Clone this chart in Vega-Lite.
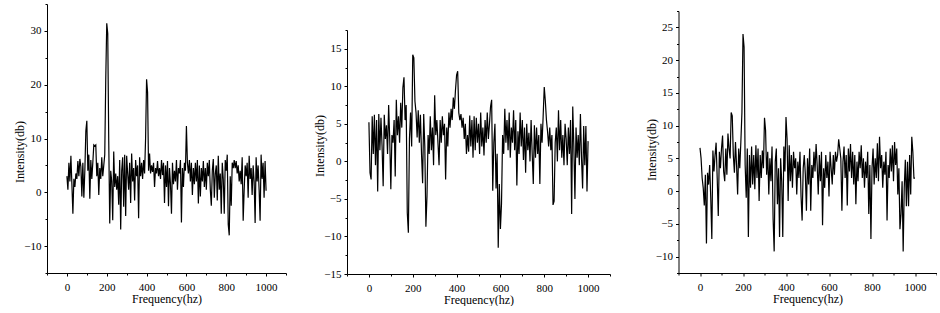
{
  "$schema": "https://vega.github.io/schema/vega-lite/v6.json",
  "background": "white",
  "padding": {"left": 13, "top": 3, "right": 0, "bottom": 0},
  "autosize": {"type": "pad"},
  "config": {
    "view": {"stroke": null},
    "axis": {
      "grid": false,
      "domainColor": "#000",
      "tickColor": "#000",
      "labelColor": "#000",
      "titleColor": "#000",
      "labelFont": "Liberation Serif",
      "titleFont": "Liberation Serif",
      "labelFontSize": 11,
      "titleFontSize": 12,
      "titleFontWeight": "normal",
      "labelFlush": false,
      "labelOverlap": false
    },
    "axisX": {"labelPadding": 5.5, "titlePadding": 1, "format": "d"},
    "axisY": {"labelPadding": 3, "titlePadding": -3}
  },
  "datasets": {
    "p1": [
      {"f":0,"v":3},{"f":5,"v":0.5},{"f":10,"v":5.5},{"f":15,"v":2},{"f":20,"v":6.8},{"f":25,"v":1.5},{"f":30,"v":-4},{"f":35,"v":2.5},{"f":40,"v":1},{"f":45,"v":3.5},
      {"f":50,"v":2.5},{"f":55,"v":5.8},{"f":60,"v":3},{"f":65,"v":6.2},{"f":70,"v":4.8},{"f":75,"v":-0.8},{"f":80,"v":5.5},{"f":85,"v":-1},{"f":90,"v":4},{"f":95,"v":11.4},
      {"f":100,"v":13.3},{"f":105,"v":4},{"f":110,"v":7},{"f":115,"v":-1.2},{"f":120,"v":6},{"f":125,"v":2.5},{"f":130,"v":5.5},{"f":135,"v":8.8},{"f":140,"v":8.6},{"f":145,"v":8.8},
      {"f":150,"v":3},{"f":155,"v":5.5},{"f":160,"v":-0.5},{"f":165,"v":4.5},{"f":170,"v":2.5},{"f":175,"v":6.5},{"f":180,"v":3},{"f":185,"v":5},{"f":190,"v":7},{"f":195,"v":21},
      {"f":200,"v":31.4},{"f":205,"v":29.5},{"f":210,"v":9.6},{"f":215,"v":-5.8},{"f":220,"v":4},{"f":225,"v":2},{"f":230,"v":-5.2},{"f":235,"v":7.6},{"f":240,"v":1},{"f":245,"v":3.5},
      {"f":250,"v":0.5},{"f":255,"v":3},{"f":260,"v":-2.3},{"f":265,"v":6},{"f":270,"v":-6.9},{"f":275,"v":4},{"f":280,"v":6.5},{"f":285,"v":-2.7},{"f":290,"v":7},{"f":295,"v":-4.4},
      {"f":300,"v":6.8},{"f":305,"v":3.5},{"f":310,"v":0.5},{"f":315,"v":5.5},{"f":320,"v":-2},{"f":325,"v":7.2},{"f":330,"v":2},{"f":335,"v":4.5},{"f":340,"v":-1.5},{"f":345,"v":6},
      {"f":350,"v":3},{"f":355,"v":5},{"f":360,"v":-4.8},{"f":365,"v":6.5},{"f":370,"v":3},{"f":375,"v":5.5},{"f":380,"v":2.5},{"f":385,"v":6},{"f":390,"v":3.5},{"f":395,"v":10},
      {"f":400,"v":21},{"f":405,"v":18.6},{"f":410,"v":4},{"f":415,"v":7.2},{"f":420,"v":3.5},{"f":425,"v":5},{"f":430,"v":3.8},{"f":435,"v":5.5},{"f":440,"v":1},{"f":445,"v":4.5},
      {"f":450,"v":3.5},{"f":455,"v":5.8},{"f":460,"v":3},{"f":465,"v":4.5},{"f":470,"v":2.5},{"f":475,"v":6},{"f":480,"v":3.2},{"f":485,"v":5.5},{"f":490,"v":-2},{"f":495,"v":5},
      {"f":500,"v":1},{"f":505,"v":5.8},{"f":510,"v":-2.6},{"f":515,"v":4.5},{"f":520,"v":1.5},{"f":525,"v":-4},{"f":530,"v":5.5},{"f":535,"v":1.5},{"f":540,"v":4},{"f":545,"v":2},
      {"f":550,"v":6},{"f":555,"v":0.5},{"f":560,"v":4.5},{"f":565,"v":3.5},{"f":570,"v":6},{"f":575,"v":-5.6},{"f":580,"v":4.5},{"f":585,"v":1},{"f":590,"v":5.5},{"f":595,"v":4},
      {"f":600,"v":12.3},{"f":605,"v":5.5},{"f":610,"v":3.5},{"f":615,"v":6},{"f":620,"v":2},{"f":625,"v":5.5},{"f":630,"v":-0.5},{"f":635,"v":4.5},{"f":640,"v":1.5},{"f":645,"v":5.5},
      {"f":650,"v":2},{"f":655,"v":6},{"f":660,"v":-2.1},{"f":665,"v":5},{"f":670,"v":-0.8},{"f":675,"v":4.5},{"f":680,"v":2},{"f":685,"v":5.8},{"f":690,"v":1},{"f":695,"v":4.5},
      {"f":700,"v":0.5},{"f":705,"v":5.5},{"f":710,"v":3},{"f":715,"v":6},{"f":720,"v":0.5},{"f":725,"v":-2.5},{"f":730,"v":4},{"f":735,"v":6.2},{"f":740,"v":-1},{"f":745,"v":3.5},
      {"f":750,"v":5},{"f":755,"v":-1.5},{"f":760,"v":6.8},{"f":765,"v":0.5},{"f":770,"v":3.5},{"f":775,"v":-4},{"f":780,"v":5.5},{"f":785,"v":2.5},{"f":790,"v":-4},{"f":795,"v":6},
      {"f":800,"v":4},{"f":805,"v":7},{"f":810,"v":-6},{"f":815,"v":-8},{"f":820,"v":3},{"f":825,"v":-2.5},{"f":830,"v":5.5},{"f":835,"v":4.5},{"f":840,"v":6},{"f":845,"v":4.5},
      {"f":850,"v":5.8},{"f":855,"v":3.5},{"f":860,"v":5},{"f":865,"v":2},{"f":870,"v":4},{"f":875,"v":1.5},{"f":880,"v":6.5},{"f":885,"v":-5.3},{"f":890,"v":0.5},{"f":895,"v":5},
      {"f":900,"v":3},{"f":905,"v":5.5},{"f":910,"v":-1},{"f":915,"v":6.8},{"f":920,"v":2.5},{"f":925,"v":4.5},{"f":930,"v":-0.5},{"f":935,"v":5},{"f":940,"v":2},{"f":945,"v":-5.7},
      {"f":950,"v":6.5},{"f":955,"v":2},{"f":960,"v":5},{"f":965,"v":0.5},{"f":970,"v":-5.3},{"f":975,"v":7},{"f":980,"v":2.5},{"f":985,"v":5.5},{"f":990,"v":-1},{"f":995,"v":5.8},
      {"f":1000,"v":0.3}
    ],
    "p2": [
      {"f":0,"v":5.2},{"f":5,"v":-1.5},{"f":10,"v":-2.4},{"f":15,"v":6},{"f":20,"v":1},{"f":25,"v":6.2},{"f":30,"v":-0.5},{"f":35,"v":5.5},{"f":40,"v":-4},{"f":45,"v":6.3},
      {"f":50,"v":1.5},{"f":55,"v":5.8},{"f":60,"v":2},{"f":65,"v":-3.3},{"f":70,"v":6.2},{"f":75,"v":3},{"f":80,"v":4.8},{"f":85,"v":1},{"f":90,"v":7.5},{"f":95,"v":3},
      {"f":100,"v":-3.7},{"f":105,"v":3.5},{"f":110,"v":2.5},{"f":115,"v":5.5},{"f":120,"v":-2},{"f":125,"v":8.2},{"f":130,"v":3.5},{"f":135,"v":6},{"f":140,"v":2.5},{"f":145,"v":7.8},
      {"f":150,"v":4.5},{"f":155,"v":9.8},{"f":160,"v":11.2},{"f":165,"v":5.5},{"f":170,"v":7.5},{"f":175,"v":-6.8},{"f":180,"v":-9.5},{"f":185,"v":3},{"f":190,"v":6.5},{"f":195,"v":2},
      {"f":200,"v":14.2},{"f":205,"v":13.8},{"f":210,"v":8},{"f":215,"v":6.5},{"f":220,"v":3.2},{"f":225,"v":6.8},{"f":230,"v":2.5},{"f":235,"v":6.2},{"f":240,"v":1},{"f":245,"v":-2.9},
      {"f":250,"v":6.3},{"f":255,"v":2},{"f":260,"v":-8.7},{"f":265,"v":-4.6},{"f":270,"v":3.5},{"f":275,"v":1},{"f":280,"v":6},{"f":285,"v":1.5},{"f":290,"v":4.5},{"f":295,"v":-0.5},
      {"f":300,"v":8.8},{"f":305,"v":3.5},{"f":310,"v":5.5},{"f":315,"v":2.5},{"f":320,"v":-0.5},{"f":325,"v":5.5},{"f":330,"v":2.5},{"f":335,"v":6},{"f":340,"v":3.5},{"f":345,"v":5},
      {"f":350,"v":-2.4},{"f":355,"v":4.5},{"f":360,"v":2},{"f":365,"v":6.5},{"f":370,"v":4.5},{"f":375,"v":7},{"f":380,"v":5.5},{"f":385,"v":8.5},{"f":390,"v":7},{"f":395,"v":9.5},
      {"f":400,"v":11.5},{"f":405,"v":12},{"f":410,"v":6.5},{"f":415,"v":5.5},{"f":420,"v":6.3},{"f":425,"v":4.5},{"f":430,"v":5.8},{"f":435,"v":3},{"f":440,"v":5},{"f":445,"v":1},
      {"f":450,"v":3.5},{"f":455,"v":1.3},{"f":460,"v":6.1},{"f":465,"v":2},{"f":470,"v":5.5},{"f":475,"v":0.5},{"f":480,"v":6},{"f":485,"v":1.5},{"f":490,"v":5.8},{"f":495,"v":2.5},
      {"f":500,"v":5},{"f":505,"v":1},{"f":510,"v":6.5},{"f":515,"v":2},{"f":520,"v":4.5},{"f":525,"v":0.8},{"f":530,"v":5.5},{"f":535,"v":2.5},{"f":540,"v":6.5},{"f":545,"v":3},
      {"f":550,"v":5},{"f":555,"v":7.3},{"f":560,"v":8.2},{"f":565,"v":-3.9},{"f":570,"v":2.5},{"f":575,"v":5},{"f":580,"v":-3.6},{"f":585,"v":1},{"f":590,"v":-11.5},{"f":595,"v":-3},
      {"f":600,"v":-9},{"f":605,"v":-5.6},{"f":610,"v":3.5},{"f":615,"v":1},{"f":620,"v":7},{"f":625,"v":2.5},{"f":630,"v":5.5},{"f":635,"v":1.5},{"f":640,"v":6.5},{"f":645,"v":0.5},
      {"f":650,"v":4.5},{"f":655,"v":2.5},{"f":660,"v":6.8},{"f":665,"v":1.5},{"f":670,"v":5.5},{"f":675,"v":-3.2},{"f":680,"v":4},{"f":685,"v":1},{"f":690,"v":6.5},{"f":695,"v":2},
      {"f":700,"v":5.5},{"f":705,"v":0.2},{"f":710,"v":4.5},{"f":715,"v":-1.5},{"f":720,"v":5},{"f":725,"v":1.5},{"f":730,"v":3.8},{"f":735,"v":0},{"f":740,"v":5.5},{"f":745,"v":1},
      {"f":750,"v":-3},{"f":755,"v":4.8},{"f":760,"v":0.5},{"f":765,"v":4.5},{"f":770,"v":1},{"f":775,"v":3.5},{"f":780,"v":-3},{"f":785,"v":5},{"f":790,"v":2.5},{"f":795,"v":6},
      {"f":800,"v":9.9},{"f":805,"v":8},{"f":810,"v":5.5},{"f":815,"v":4},{"f":820,"v":2},{"f":825,"v":4.5},{"f":830,"v":1.5},{"f":835,"v":3.5},{"f":840,"v":-5.8},{"f":845,"v":-5.3},
      {"f":850,"v":2.5},{"f":855,"v":4.5},{"f":860,"v":0},{"f":865,"v":6.8},{"f":870,"v":1.5},{"f":875,"v":5.5},{"f":880,"v":0.5},{"f":885,"v":3.5},{"f":890,"v":-0.5},{"f":895,"v":5},
      {"f":900,"v":3},{"f":905,"v":-0.5},{"f":910,"v":4.5},{"f":915,"v":1},{"f":920,"v":5.5},{"f":925,"v":-7},{"f":930,"v":7.3},{"f":935,"v":2},{"f":940,"v":-5},{"f":945,"v":4.5},
      {"f":950,"v":0.5},{"f":955,"v":3.5},{"f":960,"v":-0.5},{"f":965,"v":6.3},{"f":970,"v":0.5},{"f":975,"v":-3.6},{"f":980,"v":4.7},{"f":985,"v":-0.5},{"f":990,"v":4.7},{"f":995,"v":-4},
      {"f":1000,"v":2.7}
    ],
    "p3": [
      {"f":0,"v":6.6},{"f":5,"v":5},{"f":10,"v":2},{"f":15,"v":0.5},{"f":20,"v":-2.2},{"f":25,"v":2.5},{"f":30,"v":-8},{"f":35,"v":2.8},{"f":40,"v":1},{"f":45,"v":4},
      {"f":50,"v":-1},{"f":55,"v":-7.3},{"f":60,"v":6.2},{"f":65,"v":3},{"f":70,"v":5.5},{"f":75,"v":7.4},{"f":80,"v":2},{"f":85,"v":-3.8},{"f":90,"v":6},{"f":95,"v":3.5},
      {"f":100,"v":6.5},{"f":105,"v":8.5},{"f":110,"v":3},{"f":115,"v":1.5},{"f":120,"v":6.5},{"f":125,"v":2.5},{"f":130,"v":8.8},{"f":135,"v":6.5},{"f":140,"v":5},{"f":145,"v":12},
      {"f":150,"v":11.5},{"f":155,"v":5.5},{"f":160,"v":2.8},{"f":165,"v":7.5},{"f":170,"v":4},{"f":175,"v":-0.5},{"f":180,"v":6.5},{"f":185,"v":3.5},{"f":190,"v":7.5},{"f":195,"v":12},
      {"f":200,"v":24},{"f":205,"v":22},{"f":210,"v":4},{"f":215,"v":-1},{"f":220,"v":6.5},{"f":225,"v":-7},{"f":230,"v":5.5},{"f":235,"v":0.5},{"f":240,"v":6.8},{"f":245,"v":1},
      {"f":250,"v":5.5},{"f":255,"v":0.3},{"f":260,"v":7},{"f":265,"v":2},{"f":270,"v":6.5},{"f":275,"v":-1.5},{"f":280,"v":5.5},{"f":285,"v":2},{"f":290,"v":6.2},{"f":295,"v":3.5},
      {"f":300,"v":11.2},{"f":305,"v":9.3},{"f":310,"v":2.5},{"f":315,"v":6},{"f":320,"v":-0.5},{"f":325,"v":5},{"f":330,"v":1.5},{"f":335,"v":6.8},{"f":340,"v":-4.2},{"f":345,"v":-9.2},
      {"f":350,"v":4.5},{"f":355,"v":6.5},{"f":360,"v":-2},{"f":365,"v":3.5},{"f":370,"v":-7},{"f":375,"v":5},{"f":380,"v":1.5},{"f":385,"v":-7},{"f":390,"v":6.8},{"f":395,"v":3},
      {"f":400,"v":11.3},{"f":405,"v":8},{"f":410,"v":-1.5},{"f":415,"v":7},{"f":420,"v":1.5},{"f":425,"v":5.5},{"f":430,"v":0.5},{"f":435,"v":6},{"f":440,"v":3.5},{"f":445,"v":5},
      {"f":450,"v":-0.5},{"f":455,"v":4.5},{"f":460,"v":2},{"f":465,"v":6},{"f":470,"v":-0.8},{"f":475,"v":-4.5},{"f":480,"v":3.5},{"f":485,"v":5.5},{"f":490,"v":2.5},{"f":495,"v":-3},
      {"f":500,"v":5},{"f":505,"v":1},{"f":510,"v":6.5},{"f":515,"v":-3},{"f":520,"v":4},{"f":525,"v":2},{"f":530,"v":6},{"f":535,"v":3},{"f":540,"v":7.2},{"f":545,"v":4},
      {"f":550,"v":-0.5},{"f":555,"v":5.5},{"f":560,"v":1.5},{"f":565,"v":6},{"f":570,"v":-5.2},{"f":575,"v":3.5},{"f":580,"v":0.5},{"f":585,"v":5.5},{"f":590,"v":2},{"f":595,"v":4.5},
      {"f":600,"v":-0.8},{"f":605,"v":6},{"f":610,"v":3.5},{"f":615,"v":1},{"f":620,"v":5.5},{"f":625,"v":2.5},{"f":630,"v":6},{"f":635,"v":4.5},{"f":640,"v":5.5},{"f":645,"v":7.9},
      {"f":650,"v":6.5},{"f":655,"v":5},{"f":660,"v":-3},{"f":665,"v":4.5},{"f":670,"v":6.8},{"f":675,"v":2},{"f":680,"v":5.5},{"f":685,"v":-2.2},{"f":690,"v":6.5},{"f":695,"v":3},
      {"f":700,"v":7.2},{"f":705,"v":2},{"f":710,"v":6},{"f":715,"v":1},{"f":720,"v":5.5},{"f":725,"v":-2},{"f":730,"v":4.5},{"f":735,"v":1.5},{"f":740,"v":6},{"f":745,"v":3.5},
      {"f":750,"v":7},{"f":755,"v":2},{"f":760,"v":5},{"f":765,"v":0.5},{"f":770,"v":4.5},{"f":775,"v":2},{"f":780,"v":6},{"f":785,"v":-3.5},{"f":790,"v":4},{"f":795,"v":-7.3},
      {"f":800,"v":3.5},{"f":805,"v":6.5},{"f":810,"v":1},{"f":815,"v":5},{"f":820,"v":2},{"f":825,"v":7.3},{"f":830,"v":1.5},{"f":835,"v":8.3},{"f":840,"v":3.5},{"f":845,"v":5.5},
      {"f":850,"v":0.5},{"f":855,"v":4.5},{"f":860,"v":2.5},{"f":865,"v":6},{"f":870,"v":-4.5},{"f":875,"v":4},{"f":880,"v":2},{"f":885,"v":6.5},{"f":890,"v":3},{"f":895,"v":7},
      {"f":900,"v":1.5},{"f":905,"v":7.5},{"f":910,"v":4},{"f":915,"v":6.5},{"f":920,"v":-0.5},{"f":925,"v":3.5},{"f":930,"v":-5.8},{"f":935,"v":-3.5},{"f":940,"v":1.5},{"f":945,"v":-9.2},
      {"f":950,"v":0.5},{"f":955,"v":4.8},{"f":960,"v":-2.3},{"f":965,"v":4.5},{"f":970,"v":-2.3},{"f":975,"v":5.5},{"f":980,"v":-0.5},{"f":985,"v":8.3},{"f":990,"v":6},{"f":995,"v":2},
      {"f":1000,"v":2}
    ]
  },
  "spacing": 33.5,
  "hconcat": [
    {
      "spacing": 26,
      "hconcat": [
        {
          "width": 239,
          "height": 269,
          "data": {"name": "p1"},
          "mark": {"type": "line", "color": "#000", "strokeWidth": 1.2},
          "encoding": {
            "x": {
              "field": "f", "type": "quantitative",
              "scale": {"domain": [-100, 1100], "nice": false, "zero": false},
              "axis": {
                "title": "Frequency(hz)",
                "values": [-100, 0, 100, 200, 300, 400, 500, 600, 700, 800, 900, 1000, 1100],
                "labelExpr": "datum.value % 200 == 0 && datum.value >= 0 && datum.value <= 1000 ? datum.label : ''",
                "labelFontSize": {"condition": {"test": "datum.value % 200 == 0 && datum.value >= 0 && datum.value <= 1000", "value": 11}, "value": 0},
                "tickSize": {"condition": {"test": "datum.value % 200 == 0", "value": 3}, "value": 2}
              }
            },
            "y": {
              "field": "v", "type": "quantitative",
              "scale": {"domain": [-15, 35], "nice": false, "zero": false},
              "axis": {
                "title": "Intensity(db)",
                "titleY": 147.5,
                "values": [-15, -10, -5, 0, 5, 10, 15, 20, 25, 30, 35],
                "labelExpr": "datum.value % 10 == 0 ? datum.label : ''",
                "labelFontSize": {"condition": {"test": "datum.value % 10 == 0", "value": 11}, "value": 0},
                "tickSize": {"condition": {"test": "datum.value % 10 == 0", "value": 3}, "value": 2}
              }
            }
          }
        },
        {
          "spacing": 24,
          "vconcat": [
            {"data": {"values": []}, "mark": "point", "width": 1, "height": 1},
            {
              "width": 263,
              "height": 244,
              "data": {"name": "p2"},
              "mark": {"type": "line", "color": "#000", "strokeWidth": 1.2},
              "encoding": {
                "x": {
                  "field": "f", "type": "quantitative",
                  "scale": {"domain": [-100, 1100], "nice": false, "zero": false},
                  "axis": {
                    "title": "Frequency(hz)",
                    "values": [-100, 0, 100, 200, 300, 400, 500, 600, 700, 800, 900, 1000, 1100],
                    "labelExpr": "datum.value % 200 == 0 && datum.value >= 0 && datum.value <= 1000 ? datum.label : ''",
                    "labelFontSize": {"condition": {"test": "datum.value % 200 == 0 && datum.value >= 0 && datum.value <= 1000", "value": 11}, "value": 0},
                    "tickSize": {"condition": {"test": "datum.value % 200 == 0", "value": 3}, "value": 2}
                  }
                },
                "y": {
                  "field": "v", "type": "quantitative",
                  "scale": {"domain": [-15, 17.5], "nice": false, "zero": false},
                  "axis": {
                    "title": "Intensity(db)",
                    "titleY": 115.5,
                    "values": [-15, -12.5, -10, -7.5, -5, -2.5, 0, 2.5, 5, 7.5, 10, 12.5, 15, 17.5],
                    "labelExpr": "datum.value % 5 == 0 ? datum.label : ''",
                    "labelFontSize": {"condition": {"test": "datum.value % 5 == 0", "value": 11}, "value": 0},
                    "tickSize": {"condition": {"test": "datum.value % 5 == 0", "value": 3}, "value": 2}
                  }
                }
              }
            }
          ]
        }
      ]
    },
    {
      "spacing": 5,
      "vconcat": [
        {"data": {"values": []}, "mark": "point", "width": 1, "height": 1},
        {
          "width": 258,
          "height": 262,
          "data": {"name": "p3"},
          "mark": {"type": "line", "color": "#000", "strokeWidth": 1.2},
          "encoding": {
            "x": {
              "field": "f", "type": "quantitative",
              "scale": {"domain": [-100, 1100], "nice": false, "zero": false},
              "axis": {
                "title": "Frequency(hz)",
                "values": [-100, 0, 100, 200, 300, 400, 500, 600, 700, 800, 900, 1000, 1100],
                "labelExpr": "datum.value % 200 == 0 && datum.value >= 0 && datum.value <= 1000 ? datum.label : ''",
                "labelFontSize": {"condition": {"test": "datum.value % 200 == 0 && datum.value >= 0 && datum.value <= 1000", "value": 11}, "value": 0},
                "tickSize": {"condition": {"test": "datum.value % 200 == 0", "value": 3}, "value": 2}
              }
            },
            "y": {
              "field": "v", "type": "quantitative",
              "scale": {"domain": [-12.5, 27.5], "nice": false, "zero": false},
              "axis": {
                "title": "Intensity(db)",
                "titleY": 138.5,
                "values": [-12.5, -10, -7.5, -5, -2.5, 0, 2.5, 5, 7.5, 10, 12.5, 15, 17.5, 20, 22.5, 25, 27.5],
                "labelExpr": "datum.value % 5 == 0 ? datum.label : ''",
                "labelFontSize": {"condition": {"test": "datum.value % 5 == 0", "value": 11}, "value": 0},
                "tickSize": {"condition": {"test": "datum.value % 5 == 0", "value": 3}, "value": 2}
              }
            }
          }
        }
      ]
    }
  ]
}
